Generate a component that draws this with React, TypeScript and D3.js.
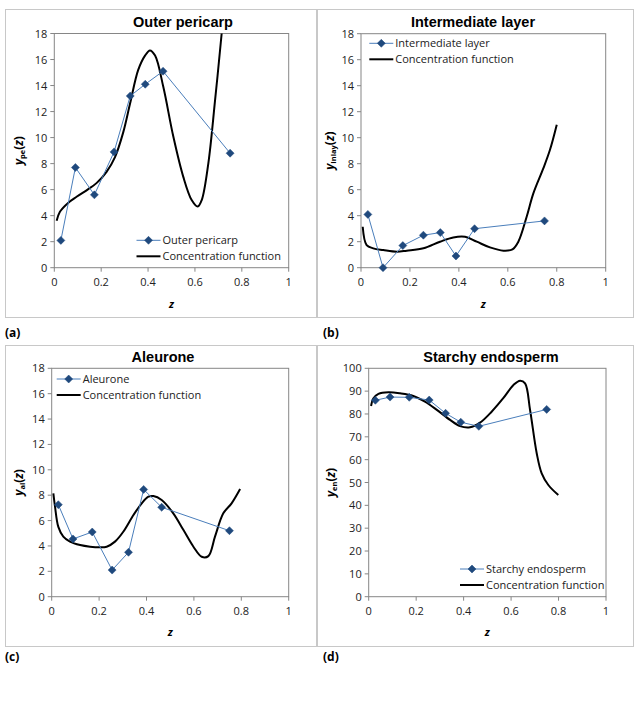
import React from 'react';
import * as d3 from 'd3';

// ---- observed data (same z positions for every layer) ----
const zObs = [0.028, 0.09, 0.171, 0.255, 0.324, 0.388, 0.464, 0.75];
const outerPericarp = [2.1, 7.7, 5.6, 8.9, 13.2, 14.1, 15.1, 8.8];
const intermediateLayer = [4.1, 0.0, 1.7, 2.5, 2.7, 0.9, 3.0, 3.6];
const aleurone = [7.25, 4.55, 5.1, 2.1, 3.5, 8.45, 7.05, 5.2];
const starchyEndosperm = [86.0, 87.4, 87.3, 86.1, 80.3, 76.4, 74.6, 82.0];

// ---- concentration functions ----
const fnOuterZ = [0.01, 0.024, 0.06, 0.095, 0.145, 0.18, 0.223, 0.259, 0.294, 0.323, 0.358, 0.387, 0.408, 0.43, 0.465, 0.508, 0.55, 0.586, 0.612, 0.629, 0.657, 0.686, 0.714, 0.725];
const fnOuterY = [3.6, 4.3, 5.0, 5.45, 6.04, 6.5, 7.37, 8.5, 10.4, 12.6, 15.2, 16.3, 16.7, 16.3, 13.9, 10.06, 7.0, 5.2, 4.7, 5.2, 8.0, 12.9, 18.0, 20.5];

const fnInterZ = [0.007, 0.023, 0.05, 0.091, 0.146, 0.187, 0.255, 0.323, 0.377, 0.425, 0.473, 0.527, 0.582, 0.619, 0.643, 0.677, 0.704, 0.745, 0.772, 0.8];
const fnInterY = [3.15, 1.74, 1.49, 1.36, 1.23, 1.31, 1.49, 2.0, 2.33, 2.38, 2.0, 1.56, 1.31, 1.41, 2.0, 3.92, 5.7, 7.64, 9.05, 11.0];

const fnAleuZ = [0.007, 0.014, 0.028, 0.049, 0.077, 0.12, 0.162, 0.204, 0.232, 0.267, 0.302, 0.345, 0.38, 0.408, 0.429, 0.464, 0.513, 0.556, 0.598, 0.633, 0.661, 0.689, 0.724, 0.759, 0.795];
const fnAleuY = [8.15, 7.1, 5.5, 4.73, 4.34, 4.07, 3.94, 3.89, 3.94, 4.34, 5.12, 6.44, 7.36, 7.88, 7.93, 7.62, 6.57, 5.25, 3.94, 3.15, 3.2, 4.73, 6.57, 7.36, 8.49];

const fnEndoZ = [0.01, 0.02, 0.041, 0.083, 0.132, 0.188, 0.237, 0.287, 0.343, 0.385, 0.427, 0.469, 0.518, 0.567, 0.61, 0.638, 0.659, 0.68, 0.708, 0.729, 0.757, 0.799];
const fnEndoY = [83.5, 86.9, 88.8, 89.5, 89.05, 87.9, 85.4, 81.8, 77.4, 74.7, 74.2, 76.2, 81.0, 86.9, 92.7, 94.6, 93.4, 81.75, 62.8, 54.0, 48.9, 44.5];

const xTicks = [0, 0.2, 0.4, 0.6, 0.8, 1];
const yTicksSmall = [0, 2, 4, 6, 8, 10, 12, 14, 16, 18];
const yTicksLarge = [0, 10, 20, 30, 40, 50, 60, 70, 80, 90, 100];

const titles = ['Outer pericarp', 'Intermediate layer', 'Aleurone', 'Starchy endosperm'];
const seriesNames = ['Outer pericarp', 'Intermediate layer', 'Aleurone', 'Starchy endosperm'];
const ySubs = ['pe', 'Inlay', 'al', 'en'];
const panelTags = ['(a)', '(b)', '(c)', '(d)'];
const fnName = 'Concentration function';

const TICK_FONT = "'Open Sans', 'Noto Sans', sans-serif";
const TITLE_FONT = "'Liberation Sans', Arial, sans-serif";
const FS = 11;

type PanelCfg = {
  box: [number, number, number, number];
  plot: [number, number, number, number]; // left, right, top, bottom
  yMax: number;
  yTicks: number[];
  title: string;
  titleX: number;
  titleY: number;
  obs: number[];
  fz: number[];
  fy: number[];
  name: string;
  legend: [number, number]; // line start x, first row y
  sub: string;
  yLabelX: number;
  xLabelY: number;
  tag: string;
  tagX: number;
  tagY: number;
};

const panels: PanelCfg[] = [
  {
    box: [5, 9, 311, 308], plot: [54.3, 288.7, 33.5, 267.7], yMax: 18, yTicks: yTicksSmall,
    title: titles[0], titleX: 183, titleY: 27, obs: outerPericarp, fz: fnOuterZ, fy: fnOuterY,
    name: seriesNames[0], legend: [136.5, 240.3], sub: ySubs[0], yLabelX: 23, xLabelY: 308,
    tag: panelTags[0], tagX: 5, tagY: 337,
  },
  {
    box: [317, 9, 316, 308], plot: [361, 605.7, 33.7, 267.7], yMax: 18, yTicks: yTicksSmall,
    title: titles[1], titleX: 473, titleY: 27, obs: intermediateLayer, fz: fnInterZ, fy: fnInterY,
    name: seriesNames[1], legend: [369.3, 43.3], sub: ySubs[1], yLabelX: 334, xLabelY: 308,
    tag: panelTags[1], tagX: 323, tagY: 337,
  },
  {
    box: [5, 345, 311, 301], plot: [51.7, 288.7, 368.3, 596.7], yMax: 18, yTicks: yTicksSmall,
    title: titles[2], titleX: 163, titleY: 362, obs: aleurone, fz: fnAleuZ, fy: fnAleuY,
    name: seriesNames[2], legend: [56.7, 379], sub: ySubs[2], yLabelX: 23, xLabelY: 636,
    tag: panelTags[2], tagX: 5, tagY: 661,
  },
  {
    box: [317, 345, 316, 301], plot: [368.7, 606, 368.3, 596.7], yMax: 100, yTicks: yTicksLarge,
    title: titles[3], titleX: 491, titleY: 362, obs: starchyEndosperm, fz: fnEndoZ, fy: fnEndoY,
    name: seriesNames[3], legend: [460, 569], sub: ySubs[3], yLabelX: 335, xLabelY: 636,
    tag: panelTags[3], tagX: 323, tagY: 661,
  },
];

const OBS_LINE = '#4a7ebb';
const MARKER = '#1f497d';

function Diamond({ cx, cy, r = 4 }: { cx: number; cy: number; r?: number }) {
  return <path d={`M${cx},${cy - r}L${cx + r},${cy}L${cx},${cy + r}L${cx - r},${cy}Z`} fill={MARKER} stroke={MARKER} strokeWidth={0.5} />;
}

function Panel({ cfg, idx }: { cfg: PanelCfg; idx: number }) {
  const [l, r, t, b] = cfg.plot;
  const x = d3.scaleLinear().domain([0, 1]).range([l, r]);
  const y = d3.scaleLinear().domain([0, cfg.yMax]).range([b, t]);
  const obsLine = d3.line<number>().x((_, i) => x(zObs[i])).y((v) => y(v));
  const fnPts = cfg.fz.map((z, i) => [z, cfg.fy[i]] as [number, number]);
  const fnLine = d3.line<[number, number]>().x((d) => x(d[0])).y((d) => y(d[1])).curve(d3.curveCatmullRom.alpha(0.5));
  const clipId = `clip${idx}`;
  const [bx, by, bw, bh] = cfg.box;
  const [lx, ly] = cfg.legend;
  const yMid = (t + b) / 2;
  return (
    <g>
      <rect x={bx + 0.5} y={by + 0.5} width={bw} height={bh} fill="#fff" stroke="#c8c8c8" strokeWidth={1} />
      <clipPath id={clipId}>
        <rect x={l} y={t} width={r - l} height={b - t} />
      </clipPath>
      <rect x={l} y={t} width={r - l} height={b - t} fill="none" stroke="#868686" strokeWidth={1} />
      {/* y ticks */}
      {cfg.yTicks.map((v) => (
        <g key={'y' + v}>
          <line x1={l - 4} x2={l} y1={y(v)} y2={y(v)} stroke="#868686" />
          <text x={l - 7} y={y(v) + 4} textAnchor="end" fontFamily={TICK_FONT} fontSize={FS} fill="#222">{v}</text>
        </g>
      ))}
      {/* x ticks */}
      {xTicks.map((v) => (
        <g key={'x' + v}>
          <line x1={x(v)} x2={x(v)} y1={b} y2={b + 4} stroke="#868686" />
          <text x={x(v)} y={b + 18} textAnchor="middle" fontFamily={TICK_FONT} fontSize={FS} fill="#222">{v}</text>
        </g>
      ))}
      {/* title */}
      <text x={cfg.titleX} y={cfg.titleY} textAnchor="middle" fontFamily={TITLE_FONT} fontWeight="bold" fontSize={14.5} fill="#000">{cfg.title}</text>
      {/* axis labels */}
      <text x={(l + r) / 2} y={cfg.xLabelY} textAnchor="middle" fontFamily={TICK_FONT} fontWeight="bold" fontStyle="italic" fontSize={11} fill="#000">z</text>
      <text transform={`translate(${cfg.yLabelX},${yMid}) rotate(-90)`} textAnchor="middle" fontFamily={TICK_FONT} fontWeight="bold" fontSize={12} fill="#000">
        <tspan fontStyle="italic">y</tspan>
        <tspan fontSize={7.5} dy={2}>{cfg.sub}</tspan>
        <tspan dy={-2}>(</tspan>
        <tspan fontStyle="italic">z</tspan>
        <tspan>)</tspan>
      </text>
      {/* series */}
      <g clipPath={`url(#${clipId})`}>
        <path d={fnLine(fnPts) || ''} fill="none" stroke="#000" strokeWidth={2} strokeLinejoin="round" />
      </g>
      <path d={obsLine(cfg.obs) || ''} fill="none" stroke={OBS_LINE} strokeWidth={1} />
      {cfg.obs.map((v, i) => (
        <Diamond key={i} cx={x(zObs[i])} cy={y(v)} />
      ))}
      {/* legend */}
      <line x1={lx} x2={lx + 24} y1={ly} y2={ly} stroke={OBS_LINE} strokeWidth={1} />
      <Diamond cx={lx + 12} cy={ly} />
      <text x={lx + 26} y={ly + 4} fontFamily={TICK_FONT} fontSize={FS} fill="#222">{cfg.name}</text>
      <line x1={lx} x2={lx + 24} y1={ly + 16} y2={ly + 16} stroke="#000" strokeWidth={2} />
      <text x={lx + 26} y={ly + 16 + 4} fontFamily={TICK_FONT} fontSize={FS} fill="#222">{fnName}</text>
      {/* panel tag */}
      <text x={cfg.tagX} y={cfg.tagY} fontFamily={TICK_FONT} fontWeight="bold" fontSize={12} fill="#000">{cfg.tag}</text>
    </g>
  );
}

export default function App() {
  return (
    <svg width={640} height={703} style={{ position: 'absolute', left: 0, top: 0, background: '#fff' }}>
      <rect x={0} y={0} width={640} height={703} fill="#fff" />
      {panels.map((p, i) => (
        <Panel key={i} cfg={p} idx={i} />
      ))}
    </svg>
  );
}
